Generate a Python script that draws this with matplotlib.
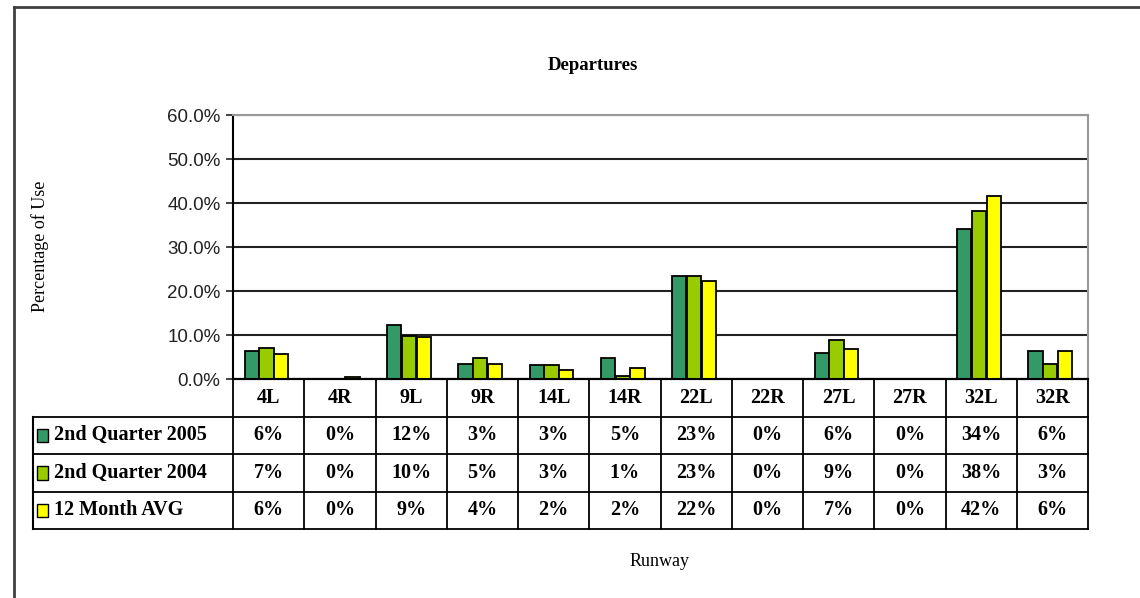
import numpy as np
import matplotlib
matplotlib.use('Agg')
import matplotlib.pyplot as plt
from matplotlib.patches import Rectangle

runways = ['4L', '4R', '9L', '9R', '14L', '14R', '22L', '22R', '27L', '27R', '32L', '32R']
series_names = ['2nd Quarter 2005', '2nd Quarter 2004', '12 Month AVG']
q2_2005 = [6.3, 0.0, 12.2, 3.5, 3.1, 4.8, 23.4, 0.0, 5.9, 0.0, 34.2, 6.3]
q2_2004 = [7.1, 0.0, 9.8, 4.8, 3.1, 0.7, 23.4, 0.0, 8.8, 0.0, 38.2, 3.5]
avg_12m = [5.6, 0.4, 9.5, 3.5, 2.0, 2.4, 22.2, 0.0, 6.8, 0.0, 41.6, 6.3]
table_2005 = ['6%', '0%', '12%', '3%', '3%', '5%', '23%', '0%', '6%', '0%', '34%', '6%']
table_2004 = ['7%', '0%', '10%', '5%', '3%', '1%', '23%', '0%', '9%', '0%', '38%', '3%']
table_avg = ['6%', '0%', '9%', '4%', '2%', '2%', '22%', '0%', '7%', '0%', '42%', '6%']
colors = ['#339966', '#99cc00', '#ffff00']

W, H = 1140, 598
fig = plt.figure(figsize=(W / 100, H / 100), dpi=100)

def px_axes(x0, y0, x1, y1):
    # pixel box (top-left origin) -> figure axes
    return fig.add_axes([x0 / W, 1 - y1 / H, (x1 - x0) / W, (y1 - y0) / H])

serif = 'Liberation Serif'
sans = 'Liberation Sans'

# outer frame of the chart
frame = px_axes(0, 0, W, H)
frame.set_xlim(0, W)
frame.set_ylim(H, 0)
frame.axis('off')
frame.plot([14, W], [7, 7], color='#404040', lw=2)
frame.plot([14, 14], [7, H], color='#404040', lw=2)

# bar plot area
left, right, top, bottom = 233, 1088, 115, 379
ax = px_axes(left, top, right, bottom)
x = np.arange(len(runways))
bw = 0.2
for i, (vals, c) in enumerate(zip([q2_2005, q2_2004, avg_12m], colors)):
    ax.bar(x + (i - 1) * bw * 1.03 - 0.03, vals, bw, color=c, edgecolor='black', linewidth=1.3, zorder=3)
ax.set_xlim(-0.5, len(runways) - 0.5)
ax.set_ylim(0, 60)
ax.set_yticks(np.arange(0, 61, 10))
ax.set_yticklabels(['%.1f%%' % v for v in np.arange(0, 61, 10)], fontfamily=sans, fontsize=13.5, color='#222222')
ax.set_xticks([])
ax.yaxis.grid(True, color='#222222', lw=1.5, zorder=0)
ax.tick_params(axis='y', length=5, width=1.2, color='#222222', pad=4)
for s in ['top', 'right']:
    ax.spines[s].set_color('#999999')
    ax.spines[s].set_linewidth(1.5)
ax.spines['left'].set_linewidth(1.5)
ax.spines['bottom'].set_linewidth(1.5)

fig.text(593 / W, 1 - 65 / H, 'Departures', ha='center', va='center',
         fontfamily=serif, fontweight='bold', fontsize=13.5)
fig.text(40 / W, 1 - 246 / H, 'Percentage of Use', ha='center', va='center', rotation=90,
         fontfamily=serif, fontsize=13)
fig.text(660 / W, 1 - 561 / H, 'Runway', ha='center', va='center', fontfamily=serif, fontsize=13)

# data table below the plot
colw = (right - left) / len(runways)
tleft = 33
tab = px_axes(tleft, bottom, right, 529)
lab_x0 = -0.5 - (left - tleft) / colw
tab.set_xlim(lab_x0, len(runways) - 0.5)
tab.set_ylim(4, 0)
tab.axis('off')
lc = 'black'
for k in range(len(runways) + 1):
    tab.plot([k - 0.5, k - 0.5], [0, 4], color=lc, lw=1.3, clip_on=False)
tab.plot([lab_x0, lab_x0], [1, 4], color=lc, lw=1.5, clip_on=False)
for r in [1, 2, 3, 4]:
    tab.plot([lab_x0, len(runways) - 0.5], [r, r], color=lc, lw=1.3, clip_on=False)
tab.plot([-0.5, len(runways) - 0.5], [0, 0], color=lc, lw=1.5, clip_on=False)

tfont = dict(fontfamily=serif, fontweight='bold', fontsize=14.5, ha='center', va='center')
for k, rw in enumerate(runways):
    tab.text(k, 0.5, rw, **tfont)
for r, (name, vals, c) in enumerate(zip(series_names, [table_2005, table_2004, table_avg], colors)):
    yc = r + 1.5
    tab.add_patch(Rectangle((lab_x0 + 0.06, yc - 0.17), 0.15, 0.36, facecolor=c, edgecolor='black',
                            lw=1.0, clip_on=False))
    tab.text(lab_x0 + 0.3, yc, name, fontfamily=serif, fontweight='bold', fontsize=14.5, ha='left', va='center')
    for k, v in enumerate(vals):
        tab.text(k, yc, v, **tfont)

fig.savefig('out.png', dpi=100)
